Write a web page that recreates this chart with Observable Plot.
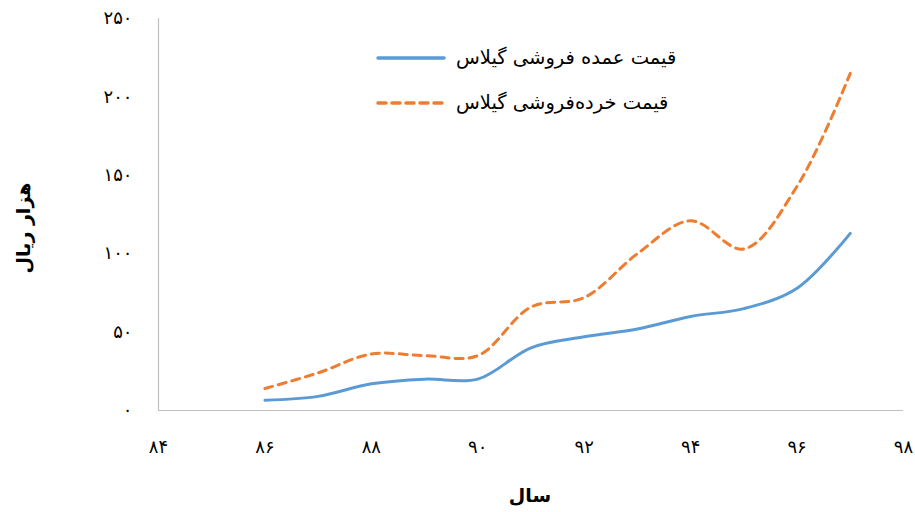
<!DOCTYPE html>
<html>
<head>
<meta charset="utf-8">
<script src="https://cdn.jsdelivr.net/npm/d3@7"></script>
<script src="https://cdn.jsdelivr.net/npm/@observablehq/plot@0.6"></script>
<style>
  body { margin: 0; background: #fff; }
  #wrap { position: relative; width: 915px; height: 512px; font-family: "DejaVu Sans", sans-serif; }
  .leg { position: absolute; left: 376px; display: flex; align-items: center; direction: ltr; font-size: 19.5px; color: #000; }
  .leg svg { margin-right: 10px; }
</style>
</head>
<body>
<div id="wrap"></div>
<script>
const years = [86, 87, 88, 89, 90, 91, 92, 93, 94, 95, 96, 97];
const wholesale = [6.5, 9, 17, 20, 20, 40, 47, 52, 60, 65, 78, 113];
const retail = [14, 24, 36, 35, 35, 66, 72, 100, 121, 103, 143, 215];
const seriesNames = ["قیمت عمده فروشی گیلاس", "قیمت خرده‌فروشی گیلاس"];
const xTicks = [84, 86, 88, 90, 92, 94, 96, 98];
const yTicks = [0, 50, 100, 150, 200, 250];

const fa = n => String(n).replace(/[0-9]/g, d => "۰۱۲۳۴۵۶۷۸۹"[+d]);
const rows = years.flatMap((y, i) => [
  {year: y, value: wholesale[i], series: seriesNames[0]},
  {year: y, value: retail[i], series: seriesNames[1]}
]);

const chart = Plot.plot({
  width: 915, height: 512,
  marginLeft: 158, marginRight: 12, marginTop: 18, marginBottom: 102,
  style: {fontFamily: "DejaVu Sans, sans-serif", fontSize: "18px", color: "#000", background: "transparent"},
  x: {domain: [84, 98], ticks: xTicks, tickFormat: fa, tickSize: 0, tickPadding: 30, label: null},
  y: {domain: [0, 250], ticks: yTicks, tickFormat: fa, tickSize: 0, tickPadding: 26, label: null},
  marks: [
    Plot.ruleY([0], {stroke: "#bfbfbf", strokeWidth: 1.2}),
    Plot.ruleX([84], {stroke: "#bfbfbf", strokeWidth: 1.2}),
    Plot.line(rows.filter(d => d.series === seriesNames[0]), {x: "year", y: "value", stroke: "#5B9BD5", strokeWidth: 3, curve: "catmull-rom"}),
    Plot.line(rows.filter(d => d.series === seriesNames[1]), {x: "year", y: "value", stroke: "#ED7D31", strokeWidth: 3, strokeDasharray: "8,6", strokeLinecap: "round", curve: "catmull-rom"})
  ]
});

const wrap = document.getElementById("wrap");
wrap.appendChild(chart);

const ns = "http://www.w3.org/2000/svg";
const yl = document.createElementNS(ns, "text");
yl.setAttribute("transform", "translate(30,228) rotate(-90)");
yl.setAttribute("text-anchor", "middle");
yl.setAttribute("font-weight", "bold");
yl.setAttribute("font-size", "19");
yl.textContent = "هزار ریال";
chart.appendChild(yl);
const xl = document.createElementNS(ns, "text");
xl.setAttribute("x", 530); xl.setAttribute("y", 502);
xl.setAttribute("text-anchor", "middle");
xl.setAttribute("font-weight", "bold");
xl.setAttribute("font-size", "19");
xl.textContent = "سال";
chart.appendChild(xl);

const legs = [
  {name: seriesNames[0], color: "#5B9BD5", dash: null, top: 46},
  {name: seriesNames[1], color: "#ED7D31", dash: "8,6", top: 91}
];
for (const l of legs) {
  const div = document.createElement("div");
  div.className = "leg";
  div.style.top = l.top + "px";
  div.innerHTML = `<svg width="70" height="8"><line x1="2" y1="4" x2="68" y2="4" stroke="${l.color}" stroke-width="3.5" stroke-linecap="round" ${l.dash ? `stroke-dasharray="${l.dash}"` : ""}/></svg><span dir="rtl">${l.name}</span>`;
  wrap.appendChild(div);
}
</script>
</body>
</html>
